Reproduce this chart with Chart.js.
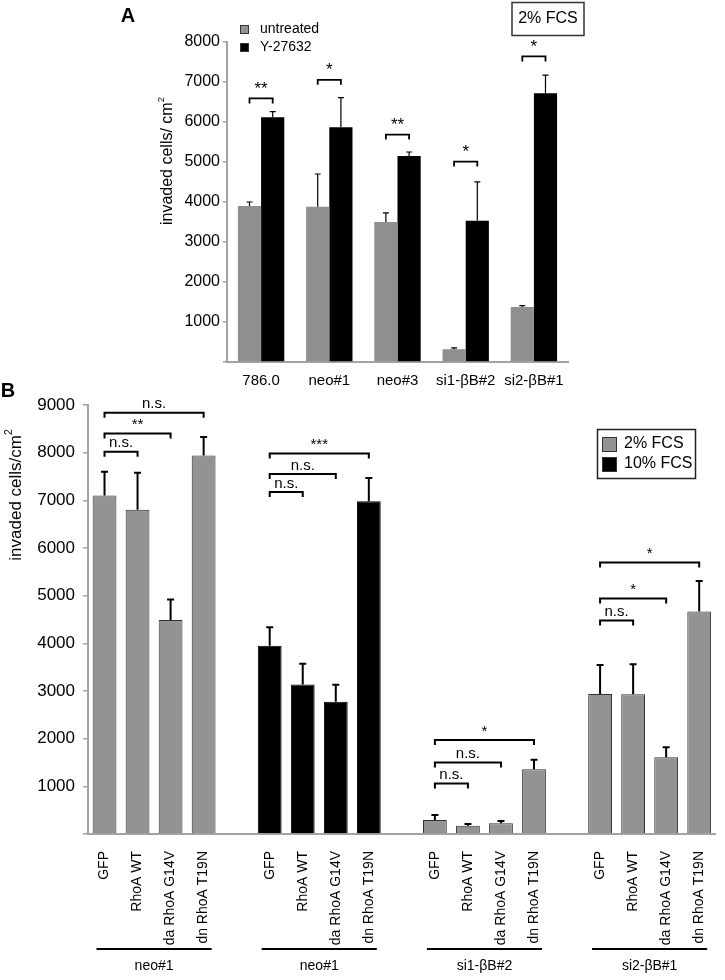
<!DOCTYPE html>
<html>
<head>
<meta charset="utf-8">
<script src="https://cdn.jsdelivr.net/npm/chart.js@4.4.0/dist/chart.umd.min.js"></script>
<style>
	body{margin:0;background:#fff;}
	#wrap{position:relative;width:725px;height:980px;}
	canvas{position:absolute;left:0;top:0;}
</style>
</head>
<body>
<div id="wrap">
	<canvas id="chartA" width="725" height="980"></canvas>
	<canvas id="chartB" width="725" height="980"></canvas>
</div>
<script>
// panel A
const linesA = ['786.0', 'neo#1', 'neo#3', 'si1-βB#2', 'si2-βB#1'];
const untreated = [3900, 3880, 3500, 320, 1375];
const untreatedErr = [100, 820, 230, 35, 35];
const y27632 = [6120, 5870, 5150, 3530, 6720];
const y27632Err = [140, 740, 100, 975, 450];
const starsA = ['**', '*', '**', '*', '*'];
const bracketA = [6590, 7055, 5685, 5010, 7640];

// panel B
const labelsB = [
	'GFP', 'RhoA WT', 'da RhoA G14V', 'dn RhoA T19N', '',
	'GFP', 'RhoA WT', 'da RhoA G14V', 'dn RhoA T19N', '',
	'GFP', 'RhoA WT', 'da RhoA G14V', 'dn RhoA T19N', '',
	'GFP', 'RhoA WT', 'da RhoA G14V', 'dn RhoA T19N'
];
const fcs2 = [7100, 6800, 4490, 7940, null, null, null, null, null, null, 293, 175, 224, 1356, null, 2935, 2930, 1610, 4670];
const fcs2Err = [500, 780, 430, 390, null, null, null, null, null, null, 105, 35, 48, 204, null, 610, 630, 210, 640];
const fcs10 = [null, null, null, null, null, 3950, 3135, 2775, 6980, null, null, null, null, null, null, null, null, null, null];
const fcs10Err = [null, null, null, null, null, 390, 435, 355, 490, null, null, null, null, null, null, null, null, null, null];
const cellLines = ['neo#1', 'neo#1', 'si1-βB#2', 'si2-βB#1'];
const groupStart = [0, 5, 10, 15];
const sigFrom = [0, 0, 0, 5, 5, 5, 10, 10, 10, 15, 15, 15];
const sigTo = [1, 2, 3, 6, 7, 8, 11, 12, 13, 16, 17, 18];
const sigLevel = [8020, 8400, 8840, 7175, 7550, 7980, 1060, 1500, 1970, 4480, 4940, 5695];
const sigText = ['n.s.', '**', 'n.s.', 'n.s.', 'n.s.', '***', 'n.s.', 'n.s.', '*', 'n.s.', '*', '*'];

const FONT = "'Liberation Sans', Arial, sans-serif";
const GREY = '#939393';
const AXIS = '#a3a3a3';

Chart.defaults.font.family = FONT;
Chart.defaults.color = '#000';

function errorBars(ctx, meta, yScale, vals, errs, lw, cap){
	meta.data.forEach((bar, i) => {
		if(vals[i] == null) return;
		const top = yScale.getPixelForValue(vals[i] + errs[i]);
		ctx.lineWidth = lw;
		ctx.beginPath();
		ctx.moveTo(bar.x, bar.y);
		ctx.lineTo(bar.x, top);
		ctx.moveTo(bar.x - cap, top);
		ctx.lineTo(bar.x + cap, top);
		ctx.stroke();
	});
}

function bracket(ctx, x1, x2, y, text, lw, size){
	ctx.lineWidth = lw;
	ctx.beginPath();
	ctx.moveTo(x1, y + 5);
	ctx.lineTo(x1, y);
	ctx.lineTo(x2, y);
	ctx.lineTo(x2, y + 5);
	ctx.stroke();
	ctx.font = `${size}px ${FONT}`;
	ctx.textAlign = 'center';
	ctx.textBaseline = 'bottom';
	ctx.fillText(text, (x1 + x2) / 2, y - 1);
}

function yTitle(ctx, x, y, text, size){
	ctx.save();
	ctx.translate(x, y);
	ctx.rotate(-Math.PI / 2);
	ctx.font = `${size}px ${FONT}`;
	const w = ctx.measureText(text).width;
	ctx.font = `${size * 0.6}px ${FONT}`;
	const w2 = ctx.measureText('2').width;
	const start = -(w + w2) / 2;
	ctx.textAlign = 'left';
	ctx.textBaseline = 'middle';
	ctx.font = `${size}px ${FONT}`;
	ctx.fillText(text, start, 0);
	ctx.font = `${size * 0.6}px ${FONT}`;
	ctx.fillText('2', start + w, -size * 0.4);
	ctx.restore();
}

function square(ctx, x, y, s, fill){
	ctx.fillStyle = fill;
	ctx.fillRect(x, y, s, s);
	ctx.strokeStyle = '#333';
	ctx.lineWidth = 1;
	ctx.strokeRect(x + 0.5, y + 0.5, s - 1, s - 1);
}

const drawA = {
	id: 'drawA',
	afterDatasetsDraw(chart){
		const ctx = chart.ctx;
		const y = chart.scales.y;
		const m0 = chart.getDatasetMeta(0);
		const m1 = chart.getDatasetMeta(1);

		ctx.save();
		ctx.strokeStyle = '#000';
		ctx.fillStyle = '#000';
		errorBars(ctx, m0, y, untreated, untreatedErr, 1.2, 3);
		errorBars(ctx, m1, y, y27632, y27632Err, 1.2, 3);

		starsA.forEach((s, i) => {
			bracket(ctx, m0.data[i].x, m1.data[i].x, y.getPixelForValue(bracketA[i]), s, 1.8, 17);
		});

		// legend
		square(ctx, 240, 25, 9, GREY);
		square(ctx, 240, 43, 9, '#000');
		ctx.fillStyle = '#000';
		ctx.font = `14px ${FONT}`;
		ctx.textAlign = 'left';
		ctx.textBaseline = 'middle';
		ctx.fillText('untreated', 260, 29);
		ctx.fillText('Y-27632', 260, 47);

		// 2% FCS box
		ctx.strokeStyle = '#333';
		ctx.lineWidth = 1.5;
		ctx.strokeRect(512, 2.5, 72, 33);
		ctx.font = `16px ${FONT}`;
		ctx.textAlign = 'center';
		ctx.fillText('2% FCS', 548, 19);

		ctx.font = `bold 20px ${FONT}`;
		ctx.fillText('A', 128, 16);

		yTitle(ctx, 168, 161, 'invaded cells/ cm', 16);
		ctx.restore();
	}
};

const drawB = {
	id: 'drawB',
	afterDatasetsDraw(chart){
		const ctx = chart.ctx;
		const x = chart.scales.x;
		const y = chart.scales.y;

		ctx.save();
		ctx.strokeStyle = '#000';
		ctx.fillStyle = '#000';
		errorBars(ctx, chart.getDatasetMeta(0), y, fcs2, fcs2Err, 2, 3.5);
		errorBars(ctx, chart.getDatasetMeta(1), y, fcs10, fcs10Err, 2, 3.5);

		sigText.forEach((t, i) => {
			bracket(ctx, x.getPixelForValue(sigFrom[i]), x.getPixelForValue(sigTo[i]), y.getPixelForValue(sigLevel[i]), t, 2, 15);
		});

		// cell line underlines
		cellLines.forEach((name, g) => {
			const x1 = x.getPixelForValue(groupStart[g]) - 8;
			const x2 = x.getPixelForValue(groupStart[g] + 3) + 8;
			ctx.lineWidth = 2;
			ctx.beginPath();
			ctx.moveTo(x1, 949);
			ctx.lineTo(x2, 949);
			ctx.stroke();
			ctx.font = `14px ${FONT}`;
			ctx.textAlign = 'center';
			ctx.textBaseline = 'middle';
			ctx.fillText(name, (x1 + x2) / 2, 966);
		});

		// legend
		ctx.strokeStyle = '#222';
		ctx.lineWidth = 1.5;
		ctx.strokeRect(597.5, 429.5, 98, 49);
		square(ctx, 602, 437, 15, GREY);
		square(ctx, 602, 457, 15, '#000');
		ctx.fillStyle = '#000';
		ctx.font = `16px ${FONT}`;
		ctx.textAlign = 'left';
		ctx.textBaseline = 'middle';
		ctx.fillText('2% FCS', 624, 444);
		ctx.fillText('10% FCS', 624, 464);

		ctx.font = `bold 20px ${FONT}`;
		ctx.textAlign = 'center';
		ctx.fillText('B', 8, 391);

		yTitle(ctx, 16, 495, 'invaded cells/cm', 17);
		ctx.restore();
	}
};

const chartA = new Chart(document.getElementById('chartA'), {
	type: 'bar',
	data: {
		labels: linesA,
		datasets: [{
			label: 'untreated',
			data: untreated,
			backgroundColor: '#8f8f8f',
			borderWidth: 0,
			categoryPercentage: 0.68,
			barPercentage: 1
		}, {
			label: 'Y-27632',
			data: y27632,
			backgroundColor: '#000',
			borderWidth: 0,
			categoryPercentage: 0.68,
			barPercentage: 1
		}]
	},
	options: {
		responsive: false,
		animation: false,
		events: [],
		layout: {padding: {left: 0, top: 42, right: 157, bottom: 578}},
		plugins: {legend: {display: false}, tooltip: {enabled: false}},
		scales: {
			x: {
				grid: {display: false},
				border: {display: true, color: AXIS, width: 2},
				ticks: {font: {size: 15}, padding: 2, autoSkip: false, maxRotation: 0},
				afterFit: (s) => { s.height = 40; }
			},
			y: {
				min: 0,
				max: 8000,
				grid: {display: true, drawOnChartArea: false, drawTicks: true, tickLength: 4, color: AXIS, lineWidth: 1.5},
				border: {display: true, color: AXIS, width: 2},
				ticks: {stepSize: 1000, font: {size: 16}, padding: 3, callback: (v) => v === 0 ? '' : String(v)},
				afterFit: (s) => { s.width = 227; }
			}
		}
	},
	plugins: [drawA]
});

const chartB = new Chart(document.getElementById('chartB'), {
	type: 'bar',
	data: {
		labels: labelsB,
		datasets: [{
			label: '2% FCS',
			data: fcs2,
			backgroundColor: GREY,
			borderColor: '#333',
			borderWidth: 1,
			grouped: false,
			categoryPercentage: 1,
			barPercentage: 0.72
		}, {
			label: '10% FCS',
			data: fcs10,
			backgroundColor: '#000',
			borderColor: '#000',
			borderWidth: 1,
			grouped: false,
			categoryPercentage: 1,
			barPercentage: 0.72
		}]
	},
	options: {
		responsive: false,
		animation: false,
		events: [],
		layout: {padding: {left: 0, top: 405, right: 0, bottom: 20}},
		plugins: {legend: {display: false}, tooltip: {enabled: false}},
		scales: {
			x: {
				grid: {display: false},
				border: {display: true, color: AXIS, width: 2},
				ticks: {font: {size: 14}, padding: 9, autoSkip: false, minRotation: 90, maxRotation: 90},
				afterFit: (s) => { s.height = 126; }
			},
			y: {
				min: 0,
				max: 9000,
				grid: {display: true, drawOnChartArea: false, drawTicks: true, tickLength: 5, color: AXIS, lineWidth: 1.5},
				border: {display: true, color: AXIS, width: 2},
				ticks: {stepSize: 1000, font: {size: 17}, padding: 8, callback: (v) => v === 0 ? '' : String(v)},
				afterFit: (s) => { s.width = 88; }
			}
		}
	},
	plugins: [drawB]
});
</script>
</body>
</html>
